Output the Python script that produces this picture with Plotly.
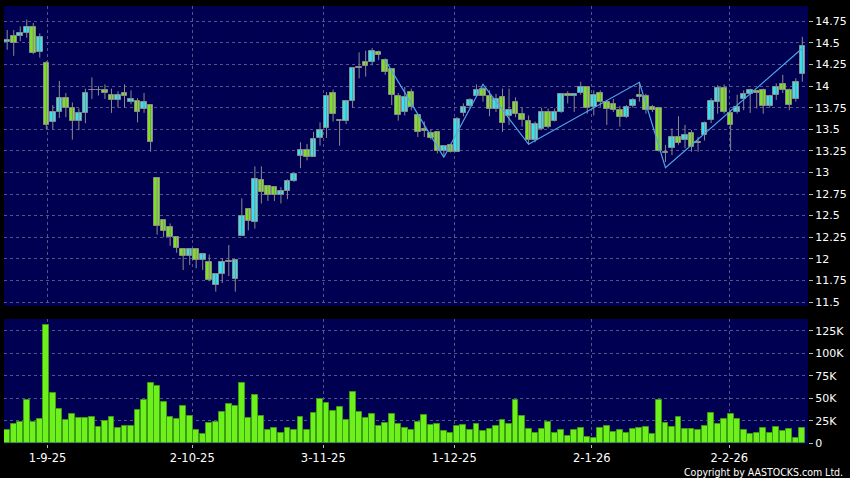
import plotly.graph_objects as go

# ---------------- data ----------------
opens = [14.51, 14.58, 14.58, 14.61, 14.68, 14.40, 14.27, 13.58, 13.70, 13.86,
         13.75, 13.60, 13.69, 13.95, 13.95, 13.96, 13.90, 13.84, 13.92, 13.82,
         13.83, 13.73, 13.78, 12.93, 12.45, 12.37, 12.25, 12.11, 12.03, 12.11,
         11.99, 11.96, 11.70, 11.82, 11.96, 11.77, 12.27, 12.58, 12.43, 12.91,
         12.84, 12.83, 12.74, 12.79, 12.90, 13.19, 13.26, 13.18, 13.40, 13.51,
         13.92, 13.60, 13.60, 13.83, 14.21, 14.28, 14.28, 14.40, 14.30, 14.20,
         13.89, 13.70, 13.93, 13.66, 13.50, 13.46, 13.47, 13.25, 13.32, 13.24,
         13.69, 13.77, 13.89, 13.97, 13.88, 13.74, 13.87, 13.65, 13.81, 13.68,
         13.60, 13.38, 13.50, 13.70, 13.60, 13.70, 13.91, 13.88, 13.92, 13.99,
         13.76, 13.92, 13.82, 13.79, 13.72, 13.64, 13.77, 13.90, 13.88, 13.76,
         13.75, 13.23, 13.28, 13.41, 13.37, 13.46, 13.35, 13.43, 13.61, 13.82,
         13.98, 13.69, 13.70, 13.85, 13.91, 13.94, 13.95, 13.77, 13.90, 14.02,
         13.95, 13.85, 14.14]
highs = [14.65, 14.65, 14.69, 14.77, 14.73, 14.61, 14.29, 13.78, 14.06, 13.92,
         13.81, 13.74, 13.97, 14.10, 14.00, 14.02, 13.97, 13.94, 14.02, 13.95,
         13.86, 13.92, 13.78, 12.93, 12.46, 12.41, 12.25, 12.11, 12.12, 12.11,
         12.07, 12.05, 11.82, 12.01, 12.16, 11.99, 12.70, 12.58, 13.07, 13.07,
         12.84, 12.83, 12.83, 12.92, 12.98, 13.35, 13.33, 13.47, 13.58, 13.93,
         13.96, 13.61, 13.83, 14.21, 14.39, 14.41, 14.44, 14.41, 14.32, 14.20,
         13.92, 13.99, 13.97, 13.66, 13.59, 13.50, 13.47, 13.31, 13.33, 13.64,
         13.80, 13.86, 14.02, 13.99, 13.95, 13.91, 13.97, 13.97, 13.87, 13.75,
         13.66, 13.59, 13.75, 13.74, 13.74, 13.91, 13.94, 13.92, 14.05, 13.99,
         13.95, 13.95, 13.84, 13.85, 13.77, 13.78, 13.86, 14.04, 13.91, 13.78,
         13.76, 13.32, 13.51, 13.65, 13.55, 13.49, 13.41, 13.59, 13.86, 14.01,
         14.02, 13.72, 13.90, 13.95, 13.97, 13.95, 13.97, 13.90, 14.03, 14.13,
         13.97, 14.09, 14.57]
lows = [14.42, 14.35, 14.52, 14.56, 14.37, 14.33, 13.50, 13.50, 13.63, 13.64,
        13.38, 13.49, 13.57, 13.85, 13.89, 13.85, 13.69, 13.75, 13.75, 13.79,
        13.58, 13.69, 13.24, 12.28, 12.25, 12.15, 12.07, 11.87, 11.93, 11.89,
        11.87, 11.74, 11.62, 11.72, 11.80, 11.62, 12.27, 12.33, 12.35, 12.64,
        12.67, 12.67, 12.64, 12.69, 12.89, 13.05, 13.14, 13.18, 13.31, 13.40,
        13.59, 13.31, 13.56, 13.75, 14.09, 14.11, 14.24, 14.30, 14.13, 13.78,
        13.60, 13.66, 13.72, 13.41, 13.41, 13.38, 13.22, 13.18, 13.23, 13.24,
        13.65, 13.74, 13.88, 13.82, 13.65, 13.70, 13.47, 13.55, 13.64, 13.53,
        13.32, 13.35, 13.49, 13.51, 13.59, 13.69, 13.80, 13.70, 13.90, 13.68,
        13.66, 13.76, 13.55, 13.70, 13.53, 13.63, 13.75, 13.82, 13.68, 13.70,
        13.24, 13.12, 13.20, 13.32, 13.28, 13.24, 13.24, 13.37, 13.57, 13.68,
        13.68, 13.26, 13.68, 13.72, 13.69, 13.74, 13.68, 13.75, 13.84, 13.92,
        13.72, 13.82, 14.05]
closes = [14.53, 14.50, 14.61, 14.68, 14.38, 14.57, 13.55, 13.70, 13.86, 13.75,
          13.60, 13.69, 13.92, 13.95, 13.95, 13.92, 13.84, 13.90, 13.88, 13.85,
          13.70, 13.82, 13.35, 12.38, 12.32, 12.25, 12.13, 12.03, 12.11, 11.99,
          12.06, 11.76, 11.82, 11.96, 11.96, 11.99, 12.50, 12.44, 12.92, 12.77,
          12.74, 12.74, 12.78, 12.90, 12.98, 13.26, 13.18, 13.39, 13.49, 13.89,
          13.68, 13.60, 13.83, 14.21, 14.21, 14.23, 14.41, 14.36, 14.16, 13.90,
          13.67, 13.87, 13.76, 13.47, 13.48, 13.40, 13.25, 13.31, 13.24, 13.62,
          13.76, 13.84, 13.96, 13.88, 13.74, 13.85, 13.57, 13.72, 13.68, 13.61,
          13.38, 13.56, 13.70, 13.53, 13.70, 13.91, 13.88, 13.91, 13.99, 13.75,
          13.90, 13.82, 13.73, 13.72, 13.64, 13.76, 13.84, 13.87, 13.72, 13.72,
          13.25, 13.23, 13.41, 13.34, 13.43, 13.30, 13.34, 13.57, 13.83, 13.98,
          13.70, 13.55, 13.76, 13.91, 13.95, 13.92, 13.77, 13.88, 13.99, 13.96,
          13.78, 14.05, 14.46]
volumes_k = [14.8, 21, 24, 48, 23.7, 27.4, 131, 55.8, 37.7, 25.5,
             32.5, 28.5, 27.7, 29.2, 18.1, 25.1, 29.6, 16.6, 19.2, 19.2,
             37, 48, 67, 64, 46, 29.6, 26.6, 41.8, 30, 14.8,
             10.4, 22.2, 24, 34.8, 43.6, 41.4, 67, 27.7, 53.6, 30,
             14.4, 16.6, 11.5, 17, 14.8, 29.6, 15.2, 33.3, 49.6, 44.4,
             36.2, 40.3, 26.3, 56.6, 34.8, 27.7, 32.9, 19.6, 22.6, 32.5,
             21.8, 17, 14.8, 24, 31, 20, 21.8, 14, 11, 19.2,
             20.3, 15.2, 21, 14, 15.5, 18.9, 25.5, 21.8, 48, 30,
             15.5, 11.8, 15.9, 23.3, 11.8, 14.8, 8.1, 14.4, 16.6, 7,
             5.5, 17.4, 18.9, 12.2, 14.4, 11.8, 15.5, 16.6, 17.8, 10,
             47.7, 22.2, 18.5, 28.8, 15.9, 15.9, 14.4, 18.9, 33.3, 21.5,
             26.6, 32.5, 26.6, 14.8, 10.4, 11.5, 16.6, 11.5, 18.5, 13.3,
             16.3, 5.5, 17.4]
# ZigZag overlay (bar index, price)
zz_idx = [58, 67, 73, 80, 97, 101, 122]
zz_val = [14.30, 13.175, 14.02, 13.326, 14.044, 13.055, 14.437]

date_labels = ["1-9-25", "2-10-25", "3-11-25", "1-12-25", "2-1-26", "2-2-26"]
date_pos = [6.2, 28.4, 48.5, 68.6, 89.7, 110.8]
price_ticks = [11.5 + 0.25 * k for k in range(14)]
vol_ticks = [0, 25, 50, 75, 100, 125]
vol_labels = ["0", "25K", "50K", "75K", "100K", "125K"]

# ---------------- styling ----------------
NAVY = "#000052"
CYAN = "#33e3f2"
GREEN = "#7ee024"
DOJI = "#9a9a9a"
EDGE = "#8a8a8a"
VOLG = "#6ef01c"
VOLEDGE = "#3c9c12"
GRID = "#55558a"
FONT = "DejaVu Sans"

n = len(opens)
idx = list(range(n))

wx, wy = [], []
for i in idx:
    wx += [i, i, None]
    wy += [lows[i], highs[i], None]

body_base, body_h, body_col = [], [], []
for o, c in zip(opens, closes):
    body_base.append(min(o, c))
    body_h.append(max(abs(c - o), 0.01))
    body_col.append(CYAN if c > o else (GREEN if c < o else DOJI))

fig = go.Figure()
fig.add_trace(go.Scatter(x=wx, y=wy, mode="lines", line=dict(color=EDGE, width=1),
                         hoverinfo="skip", showlegend=False, xaxis="x", yaxis="y"))
fig.add_trace(go.Bar(x=idx, y=body_h, base=body_base, width=0.86,
                     marker=dict(color=body_col, line=dict(color=EDGE, width=1)),
                     showlegend=False, xaxis="x", yaxis="y"))
fig.add_trace(go.Scatter(x=zz_idx, y=zz_val, mode="lines",
                         line=dict(color="#4ea6e6", width=1.2),
                         hoverinfo="skip", showlegend=False, xaxis="x", yaxis="y"))
fig.add_trace(go.Bar(x=idx, y=volumes_k, width=0.9,
                     marker=dict(color=VOLG, line=dict(color=VOLEDGE, width=1)),
                     showlegend=False, xaxis="x2", yaxis="y2"))

xr = [-0.49, 122.87]
tickfont = dict(family=FONT, size=11, color="white")
fig.update_layout(
    width=850, height=478,
    margin=dict(l=4, r=42, t=6, b=34),
    paper_bgcolor="black", plot_bgcolor=NAVY,
    bargap=0, barmode="overlay",
    xaxis=dict(domain=[0, 1], range=xr, anchor="y", tickvals=date_pos,
               showticklabels=False, ticks="", showgrid=True, gridcolor=GRID,
               griddash="3px,3px", gridwidth=1, zeroline=False, showline=False),
    yaxis=dict(domain=[0.3151, 1], range=[11.454, 14.927], side="right",
               tickvals=price_ticks, ticks="outside", ticklen=4, tickcolor="#bbbbbb",
               tickfont=tickfont, showgrid=True, gridcolor=GRID, griddash="3px,3px",
               zeroline=False, showline=False),
    xaxis2=dict(domain=[0, 1], range=xr, anchor="y2", tickvals=date_pos,
                ticktext=date_labels, ticks="outside", ticklen=3, tickcolor="#bbbbbb",
                tickfont=dict(family=FONT, size=11.5, color="white"),
                showgrid=True, gridcolor=GRID, griddash="3px,3px",
                zeroline=False, showline=False),
    yaxis2=dict(domain=[0, 0.2854], range=[-0.8, 138], side="right",
                tickvals=vol_ticks, ticktext=vol_labels, ticks="outside", ticklen=4,
                tickcolor="#bbbbbb", tickfont=tickfont, showgrid=True, gridcolor=GRID,
                griddash="3px,3px", zeroline=False, showline=False),
    annotations=[dict(text="Copyright by AASTOCKS.com Ltd.", xref="paper", yref="paper",
                      x=1.046, y=-0.063, xanchor="right", yanchor="middle",
                      showarrow=False,
                      font=dict(family="DejaVu Sans Condensed, Liberation Sans", size=10.5,
                                color="white"))],
)

fig.write_html("out.html",
               config={"displayModeBar": False},
               post_script="document.body.style.margin='0';"
                           "document.body.style.background='black';")
